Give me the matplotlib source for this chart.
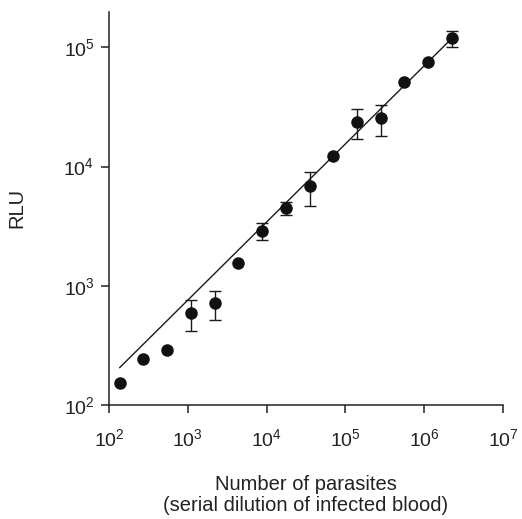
import numpy as np
import matplotlib
matplotlib.use("Agg")
import matplotlib.pyplot as plt
from matplotlib.ticker import LogLocator, NullLocator

plt.rcParams['font.family'] = ['Liberation Sans', 'DejaVu Sans']
plt.rcParams['mathtext.fontset'] = 'custom'
plt.rcParams['mathtext.rm'] = 'Liberation Sans'
plt.rcParams['mathtext.it'] = 'Liberation Sans:italic'

# serial dilution: number of parasites per well
parasites = [137, 274, 548, 1096, 2192, 4384, 8768, 17540, 35070,
             70140, 140300, 280600, 561200, 1122000, 2245000]
rlu = [154, 245, 291, 588, 713, 1545, 2883, 4470, 6875,
       12270, 23540, 25580, 51270, 75440, 119200]
err_lo = [0, 0, 0, 173, 199, 0, 473, 520, 2205,
          0, 6490, 7630, 0, 0, 18500]
err_hi = [0, 0, 0, 172, 197, 0, 482, 610, 2185,
          0, 6730, 7470, 0, 0, 18800]

# regression line endpoints
fit_x = [137, 2245000]
fit_y = [206, 119000]

fig = plt.figure(figsize=(5.22, 5.19), dpi=100)
ax = fig.add_axes([0.2088, 0.2197, 0.7548, 0.7572])

ax.plot(fit_x, fit_y, '-', color='#1a1a1a', lw=1.0)

has_err = [i for i in range(len(rlu)) if err_lo[i] > 0]
ax.errorbar([parasites[i] for i in has_err], [rlu[i] for i in has_err],
            yerr=[[err_lo[i] for i in has_err], [err_hi[i] for i in has_err]],
            fmt='none', ecolor='#1a1a1a', elinewidth=1.0, capsize=4.3,
            capthick=1.0)
ax.plot(parasites, rlu, 'o', color='#111111', ms=8, zorder=3)

ax.set_xscale('log')
ax.set_yscale('log')
ax.set_xlim(1e2, 1e7)
ax.set_ylim(1e2, 1.98e5)

ax.xaxis.set_major_locator(LogLocator(base=10, numticks=10))
ax.yaxis.set_major_locator(LogLocator(base=10, numticks=10))
ax.xaxis.set_minor_locator(NullLocator())
ax.yaxis.set_minor_locator(NullLocator())

for s in ['top', 'right']:
    ax.spines[s].set_visible(False)
for s in ['left', 'bottom']:
    ax.spines[s].set_linewidth(1.1)
    ax.spines[s].set_color('#222222')

ax.tick_params(axis='both', direction='out', length=5.5, width=1.1,
               labelsize=14, colors='#222222', pad=5)
ax.tick_params(axis='x', pad=11)

ax.set_xlabel("Number of parasites\n(serial dilution of infected blood)",
              fontsize=14.5, color='#222222', labelpad=18, linespacing=1.15)
ax.set_ylabel("RLU", fontsize=14.5, color='#222222', labelpad=27)

fig.savefig("out.png", dpi=100)
